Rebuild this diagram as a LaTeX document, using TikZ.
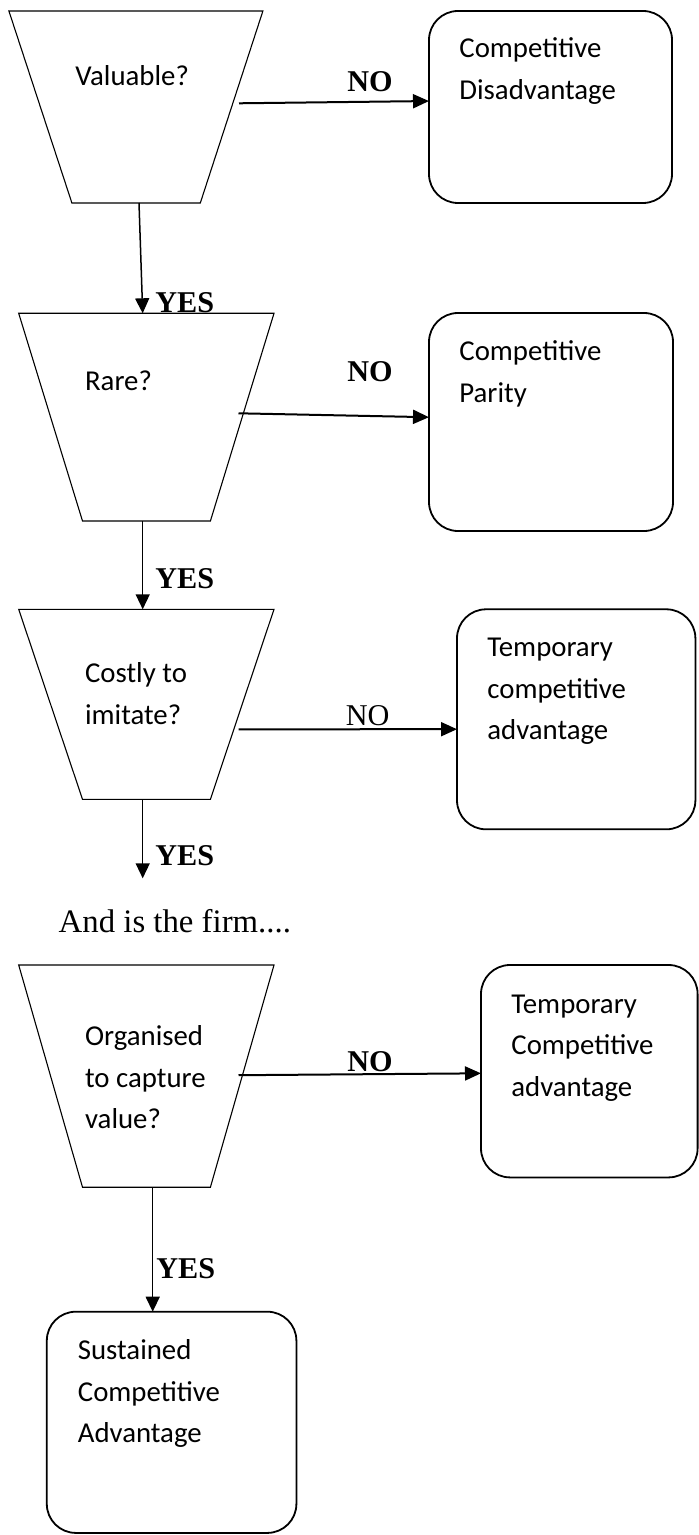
\documentclass[tikz,border=0pt]{standalone}
\usepackage{fontspec}
\setmainfont{Liberation Serif}
\newfontfamily\calib{Carlito}
\usetikzlibrary{arrows.meta,calc}
\begin{document}
\begin{tikzpicture}[x=0.5pt,y=-0.5pt,
  frame/.style={inner sep=0pt, outer sep=0pt, draw=none, anchor=north west},
  trap/.style={draw, line width=0.55pt, line join=miter},
  rbox/.style={draw, line width=0.9pt, rounded corners=14.5pt, anchor=north west, inner sep=0pt, outer sep=0pt},
  harr/.style={line width=1pt, -{Triangle[length=8pt,width=7pt]}},
  varr/.style={line width=0.75pt, -{Triangle[length=7.5pt,width=7pt]}},
  ctext/.style={anchor=base west, inner sep=0pt, font=\calib\fontsize{14.4}{20.75}\selectfont},
  lblb/.style={anchor=base west, inner sep=0pt, font=\fontsize{15.1}{18}\selectfont\bfseries},
  lblr/.style={anchor=base west, inner sep=0pt, font=\fontsize{15.1}{18}\selectfont},
  note/.style={anchor=base west, inner sep=0pt, font=\fontsize{16.4}{19}\selectfont}
]
\useasboundingbox (0,0) rectangle (699,1535);

% ---------- labels drawn first (shapes overlay them) ----------
\node[lblb] (yes1) at (155,313) {YES};
\node[lblb] (yes2) at (155,588.3) {YES};
\node[lblb] (yes3) at (155,865) {YES};
\node[lblb] (yes4) at (156,1278) {YES};
\node[lblb] (no1) at (347,92) {NO};
\node[lblb] (no2) at (347,381.7) {NO};
\node[lblr] (no3) at (345.5,725) {NO};
\node[lblb] (no4) at (347,1071.7) {NO};
\node[note] (firm) at (58.3,932.5) {And is the firm....};

% ---------- trapezoids (decisions) ----------
\node[frame, minimum width=127pt, minimum height=96pt] (t1) at (8.9,11) {};
\draw[trap] (t1.north west) -- (t1.north east) -- ([xshift=-31.3pt]t1.south east) -- ([xshift=31.5pt]t1.south west) -- cycle;
\node[frame, minimum width=127.65pt, minimum height=103.85pt] (t2) at (18.7,313.3) {};
\draw[trap] (t2.north west) -- (t2.north east) -- ([xshift=-31.8pt]t2.south east) -- ([xshift=31.9pt]t2.south west) -- cycle;
\node[frame, minimum width=127.65pt, minimum height=95pt] (t3) at (18.7,609.3) {};
\draw[trap] (t3.north west) -- (t3.north east) -- ([xshift=-31.8pt]t3.south east) -- ([xshift=31.9pt]t3.south west) -- cycle;
\node[frame, minimum width=127.65pt, minimum height=111.1pt] (t4) at (18.7,965) {};
\draw[trap] (t4.north west) -- (t4.north east) -- ([xshift=-31.8pt]t4.south east) -- ([xshift=31.9pt]t4.south west) -- cycle;

\node[ctext] (q1) at (75,86) {Valuable?};
\node[ctext] (q2) at (84.7,390.7) {Rare?};
\node[ctext] (q3) at (84.7,682.7) {\vtop{\hbox{Costly to}\hbox{imitate?}}};
\node[ctext] (q4) at (84.7,1045.6) {\vtop{\hbox{Organised}\hbox{to capture}\hbox{value?}}};

% ---------- outcome boxes ----------
\node[rbox, minimum width=121.5pt, minimum height=96pt] (b1) at (429,11) {};
\node[rbox, minimum width=122pt, minimum height=109pt] (b2) at (429,313) {};
\node[rbox, minimum width=119.2pt, minimum height=110pt] (b3) at (457,609.3) {};
\node[rbox, minimum width=108.3pt, minimum height=106.2pt] (b4) at (481,965) {};
\node[rbox, minimum width=124.8pt, minimum height=110.6pt] (b5) at (46.8,1311.7) {};

\node[ctext] (r1) at (459,57.7) {\vtop{\hbox{Competitive}\hbox{Disadvantage}}};
\node[ctext] (r2) at (459,360.7) {\vtop{\hbox{Competitive}\hbox{Parity}}};
\node[ctext] (r3) at (487,656.7) {\vtop{\hbox{Temporary}\hbox{competitive}\hbox{advantage}}};
\node[ctext] (r4) at (511,1013) {\vtop{\hbox{Temporary}\hbox{Competitive}\hbox{advantage}}};
\node[ctext] (r5) at (77.5,1359.5) {\vtop{\hbox{Sustained}\hbox{Competitive}\hbox{Advantage}}};

% ---------- connector points ----------
\coordinate (o1) at (239,103.3);
\coordinate (o2) at (238.5,413.3);
\coordinate (o3) at (238.5,729.3);
\coordinate (o4) at (238.5,1075.2);
\coordinate (d1) at (139,203);
\coordinate (e1) at (142.7,313.3);
\coordinate (d2) at (142.7,521);
\coordinate (d3) at (142.7,799.3);
\coordinate (end3) at (142.7,878.3);
\coordinate (d4) at (152.7,1187.3);

% ---------- NO arrows ----------
\draw[harr] (o1) -- ($(b1.north west)!0.469!(b1.south west)$);
\draw[harr] (o2) -- ($(b2.north west)!0.478!(b2.south west)$);
\draw[harr] (o3) -- ($(b3.north west)!0.545!(b3.south west)$);
\draw[harr] (o4) -- ($(b4.north west)!0.51!(b4.south west)$);

% ---------- YES arrows ----------
\draw[varr] (d1) -- (e1);
\draw[varr] (d2) -- (d2 |- t3.north);
\draw[varr] (d3) -- (end3);
\draw[varr] (d4) -- (d4 |- b5.north);
\end{tikzpicture}
\end{document}
